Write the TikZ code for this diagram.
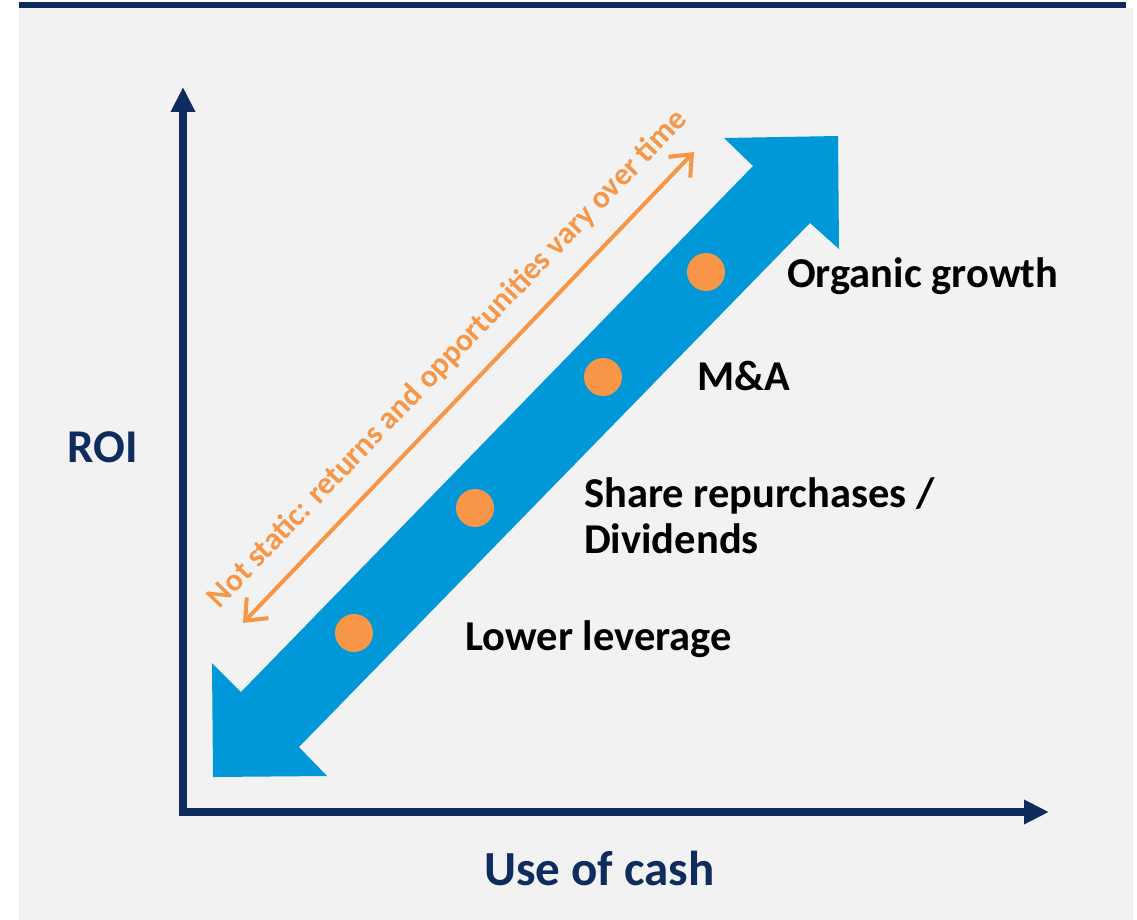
\documentclass[tikz,border=0pt]{standalone}
\usepackage{fontspec}
\setmainfont{Carlito}
\usetikzlibrary{arrows.meta}
\definecolor{bgc}{RGB}{242,242,242}
\definecolor{navyc}{RGB}{14,45,94}
\definecolor{bluec}{RGB}{0,152,216}
\definecolor{orangec}{RGB}{247,150,70}
\tikzset{
  axisline/.style={draw=navyc, line width=8pt, line cap=rect, -{Triangle[length=25pt,width=23pt]}},
  dotc/.style={circle, fill=orangec, minimum size=38pt, inner sep=0pt},
  lab/.style={anchor=base west, inner sep=0pt, font=\bfseries\fontsize{42.5}{46}\selectfont, text=black},
  axlab/.style={anchor=base west, inner sep=0pt, text=navyc},
  note/.style={anchor=base, inner sep=0pt, text=orangec, font=\bfseries\fontsize{31.5}{36}\selectfont, rotate=46.2},
  twoway/.style={draw=orangec, line width=4pt, {Straight Barb[length=18pt,width=30pt]}-{Straight Barb[length=18pt,width=30pt]}}
}
\begin{document}
\begin{tikzpicture}[x=1pt,y=-1pt]
  \useasboundingbox (0,0) rectangle (1137,920);
  \fill[white] (0,0) rectangle (1137,920);
  \fill[bgc] (19,8) rectangle (1133,920);
  \fill[navyc] (19,2) rectangle (1126,8);
  % blue double arrow
  \fill[bluec] (213,777) -- (212,663) -- (241,692) -- (753,166) -- (724,138) -- (838,136)
     -- (839,249) -- (810,223) -- (299,747) -- (327,776) -- cycle;
  % axes
  \coordinate (O) at (183,812);
  \coordinate (ytip) at (183,87);
  \coordinate (xtip) at (1049,812);
  \draw[axisline] (O) -- (ytip);
  \draw[axisline] (O) -- (xtip);
  % dots
  \node[dotc] (d1) at (354,633) {};
  \node[dotc] (d2) at (475,508) {};
  \node[dotc] (d3) at (603,377) {};
  \node[dotc] (d4) at (706,272) {};
  % labels
  \node[lab] (organic) at (787,287) {Organic growth};
  \node[lab] (ma) at (697,390) {M\&A};
  \node[lab] (share) at (584,507) {Share repurchases /};
  \node[lab] (divid) at (584,553) {Dividends};
  \node[lab] (lower) at (465,650) {Lower leverage};
  \node[axlab, font=\bfseries\fontsize{47}{56}\selectfont] (roi) at (67,462) {ROI};
  \node[axlab, font=\bfseries\fontsize{49}{58}\selectfont] (cash) at (484,885) {Use of cash};
  % orange arrow
  \coordinate (oa) at (243,623);
  \coordinate (ob) at (694,152);
  \draw[twoway] (oa) -- (ob);
  \node[note] (static) at (454,365) {Not static: returns and opportunities vary over time};
\end{tikzpicture}
\end{document}
